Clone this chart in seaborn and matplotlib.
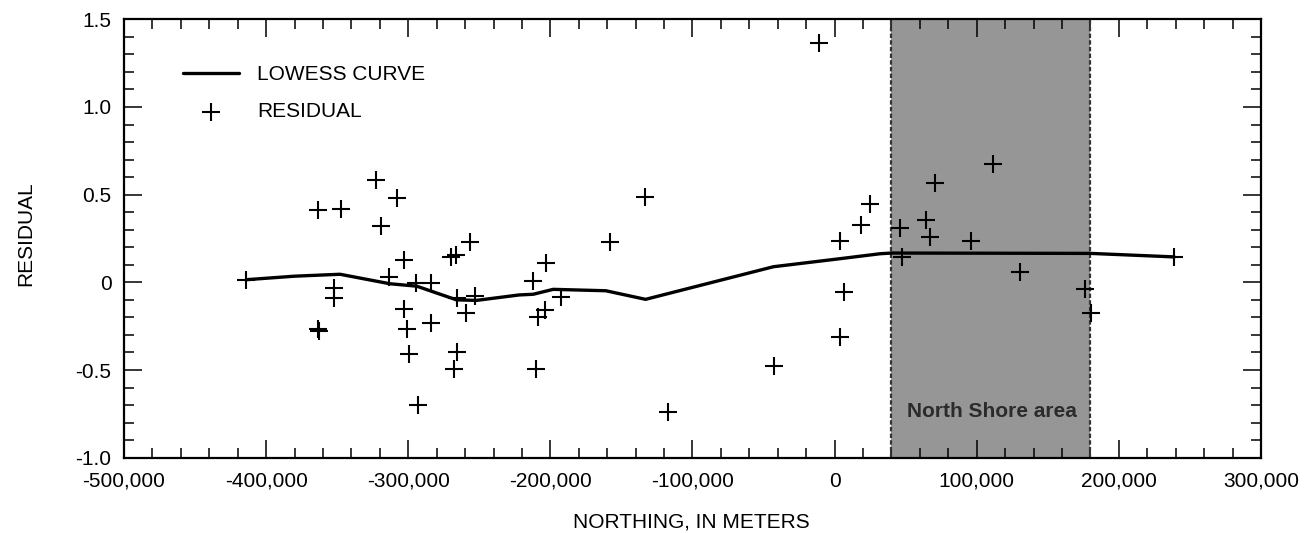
import numpy as np
import pandas as pd
import matplotlib
matplotlib.use("Agg")
import matplotlib.pyplot as plt
from matplotlib.ticker import MultipleLocator, FuncFormatter
import seaborn as sns

# residuals (northing in meters, residual)
resid_x = [-414000, -363600, -347200, -352000, -352000, -363600, -363000,
           -322600, -308000, -319000, -303300, -313200, -303300, -300700,
           -299600, -293200, -294300, -283800, -284300, -269800, -266200,
           -256400, -265700, -253300, -259200, -265700, -268100, -203400,
           -212300, -192800, -204100, -208800, -209900, -158300, -133200,
           -117500, -42700, -11000, 3500, 18800, 25200, 6700, 3500,
           45700, 47600, 64500, 67000, 70600, 96200, 111800, 130500,
           175900, 180600, 238700]
resid_y = [0.013, 0.41, 0.42, -0.03, -0.09, -0.265, -0.28,
           0.583, 0.48, 0.32, 0.127, 0.03, -0.154, -0.266,
           -0.41, -0.70, -0.006, -0.006, -0.234, 0.146, 0.156,
           0.23, -0.09, -0.078, -0.177, -0.395, -0.496, 0.112,
           0.009, -0.086, -0.158, -0.2, -0.496, 0.23, 0.488,
           -0.74, -0.475, 1.366, 0.237, 0.325, 0.446, -0.057, -0.314,
           0.312, 0.146, 0.355, 0.256, 0.567, 0.235, 0.674, 0.06,
           -0.04, -0.177, 0.145]

# lowess curve vertices
lowess_x = [-414000, -380000, -348000, -313000, -294000, -266000, -252000,
            -222000, -212000, -198000, -161000, -133000, -43000, 4000,
            32000, 40000, 180000, 239000]
lowess_y = [0.015, 0.035, 0.046, -0.008, -0.022, -0.10, -0.103,
            -0.072, -0.068, -0.04, -0.048, -0.097, 0.089, 0.135,
            0.163, 0.167, 0.165, 0.145]

# North Shore area extent
shore_span = [40000, 180000]

resid_df = pd.DataFrame({"northing": resid_x, "residual": resid_y})
lowess_df = pd.DataFrame({"northing": lowess_x, "residual": lowess_y})

sns.set_theme(style="ticks")
plt.rcParams["font.family"] = ["Liberation Sans", "DejaVu Sans"]
plt.rcParams["text.color"] = "black"
plt.rcParams["axes.labelcolor"] = "black"

fig = plt.figure(figsize=(13.12, 5.33), dpi=100)
ax = fig.add_axes([0.0945, 0.1413, 0.8666, 0.8225])

# shaded area
ax.axvspan(shore_span[0], shore_span[1], color="#969696", lw=0, zorder=0)
for xv in shore_span:
    ax.axvline(xv, color="#333333", lw=1.6, ls=(0, (2, 1)), zorder=1)
ax.text(sum(shore_span) / 2 + 1000, -0.737, "North Shore area",
        ha="center", va="center", fontsize=15, fontweight="bold",
        color="#2b2b2b", zorder=2)

sns.lineplot(data=lowess_df, x="northing", y="residual", ax=ax,
             color="black", lw=2.4, estimator=None, sort=False,
             label="LOWESS CURVE", zorder=3)
sns.scatterplot(data=resid_df, x="northing", y="residual", ax=ax,
                marker="+", s=170, color="black", linewidth=1.5,
                label="RESIDUAL", zorder=4)

ax.set_xlim(-500000, 300000)
ax.set_ylim(-1.0, 1.5)
ax.xaxis.set_major_locator(MultipleLocator(100000))
ax.xaxis.set_minor_locator(MultipleLocator(20000))
ax.yaxis.set_major_locator(MultipleLocator(0.5))
ax.yaxis.set_minor_locator(MultipleLocator(0.1))
ax.xaxis.set_major_formatter(FuncFormatter(lambda v, p: f"{v:,.0f}"))
ax.yaxis.set_major_formatter(FuncFormatter(lambda v, p: "0" if abs(v) < 1e-9 else f"{v:.1f}"))

ax.tick_params(which="both", direction="in", top=True, right=True,
               colors="black", labelsize=15, width=1.1)
ax.tick_params(which="major", length=13)
ax.tick_params(which="minor", length=7)
ax.tick_params(axis="x", pad=10)
ax.tick_params(axis="y", pad=9)
for sp in ax.spines.values():
    sp.set_linewidth(1.6)
    sp.set_color("black")

ax.set_xlabel("NORTHING, IN METERS", fontsize=15)
ax.set_ylabel("RESIDUAL", fontsize=15)
ax.xaxis.set_label_coords(0.499, -0.126)
ax.yaxis.set_label_coords(-0.078, 0.51)

leg = ax.legend(loc="upper left", bbox_to_anchor=(0.052, 0.895),
                frameon=False, fontsize=15, handlelength=2.7,
                handletextpad=0.85, labelspacing=0.85, borderpad=0,
                borderaxespad=0)
for t in leg.get_texts():
    t.set_color("black")

fig.savefig("out.png", dpi=100)
